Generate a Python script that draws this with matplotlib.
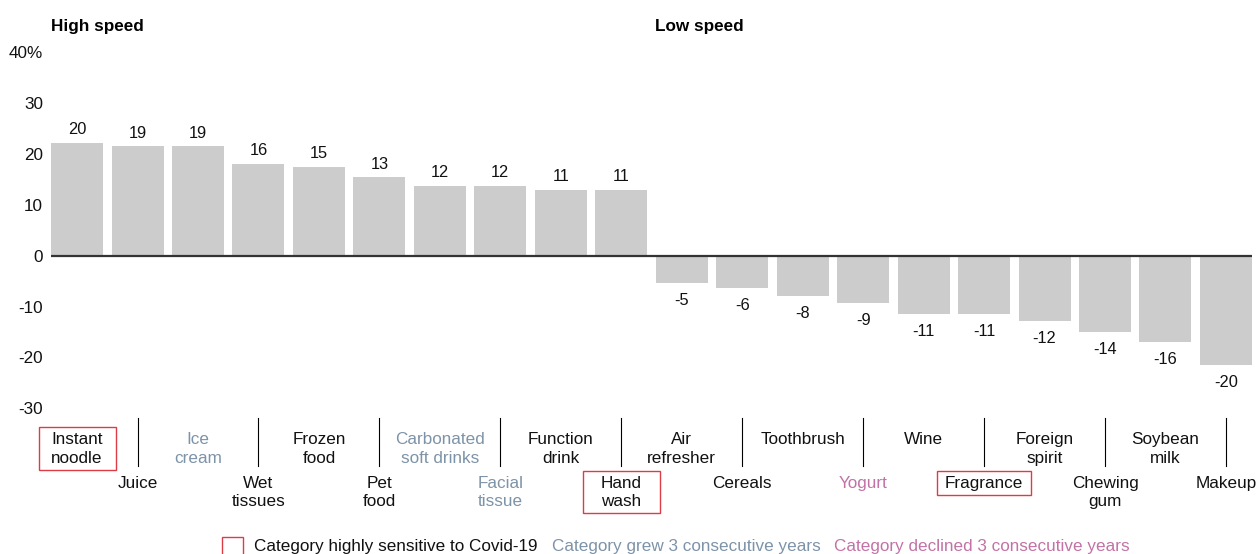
import matplotlib
matplotlib.use('Agg')
import matplotlib.pyplot as plt
from matplotlib.patches import Rectangle
from matplotlib.transforms import blended_transform_factory, IdentityTransform

# ---------------- data ----------------
categories = ["Instant\nnoodle", "Juice", "Ice\ncream", "Wet\ntissues", "Frozen\nfood",
              "Pet\nfood", "Carbonated\nsoft drinks", "Facial\ntissue", "Function\ndrink",
              "Hand\nwash", "Air\nrefresher", "Cereals", "Toothbrush", "Yogurt", "Wine",
              "Fragrance", "Foreign\nspirit", "Chewing\ngum", "Soybean\nmilk", "Makeup"]
bar_values = [22.2, 21.5, 21.5, 18.1, 17.5, 15.4, 13.7, 13.7, 12.9, 12.9,
              -5.3, -6.3, -7.9, -9.25, -11.4, -11.4, -12.8, -15.0, -16.9, -21.5]
value_labels = [20, 19, 19, 16, 15, 13, 12, 12, 11, 11,
                -5, -6, -8, -9, -11, -11, -12, -14, -16, -20]
covid_sensitive = ["Instant\nnoodle", "Hand\nwash", "Fragrance"]
grew_3_years = ["Ice\ncream", "Carbonated\nsoft drinks", "Facial\ntissue"]
declined_3_years = ["Yogurt"]
y_ticks = [-30, -20, -10, 0, 10, 20, 30, 40]
y_tick_labels = ["-30", "-20", "-10", "0", "10", "20", "30", "40%"]
group_titles = ["High speed", "Low speed"]
legend_texts = ["Category highly sensitive to Covid-19",
                "Category grew 3 consecutive years",
                "Category declined 3 consecutive years"]

# ---------------- style ----------------
plt.rcParams['font.family'] = ['Liberation Sans', 'DejaVu Sans']
BAR = '#cccccc'
ZERO = '#333333'
RED = '#dc3c46'
BLUE = '#7d93a8'
PINK = '#c272a6'
FS = 12.3

W, H = 1257, 554
fig = plt.figure(figsize=(W / 100, H / 100), dpi=100)
ax = fig.add_axes([46.8 / W, 1 - 420 / H, (1256.2 - 46.8) / W, 390 / H])
ax.set_xlim(-0.5, 19.5)
ax.set_ylim(-32.28, 44.34)

x = list(range(len(categories)))
ax.bar(x, bar_values, width=0.86, color=BAR, zorder=2)
ax.plot([-0.43, len(x) - 1 + 0.43], [0, 0], color=ZERO, lw=1.6,
        solid_capstyle='butt', zorder=3)

for i, (v, lab) in enumerate(zip(bar_values, value_labels)):
    if v >= 0:
        ax.annotate(str(lab), (i, v), xytext=(0, 4.0), textcoords='offset points',
                    ha='center', va='bottom', fontsize=11.8, color='#111111')
    else:
        ax.annotate(str(lab), (i, v), xytext=(0, -7.4), textcoords='offset points',
                    ha='center', va='top', fontsize=11.8, color='#111111')

ax.set_yticks(y_ticks, y_tick_labels)
ax.tick_params(axis='y', length=0, pad=2.7, labelsize=FS, labelcolor='#111111')
ax.set_xticks([])
for s in ax.spines.values():
    s.set_visible(False)

trans = blended_transform_factory(ax.transData, fig.transFigure)
cat_texts = {}
for i, cat in enumerate(categories):
    ypx = 432.3 if i % 2 == 0 else 476.0
    color = '#111111'
    if cat in grew_3_years:
        color = BLUE
    elif cat in declined_3_years:
        color = PINK
    t = ax.text(i, 1 - ypx / H, cat, transform=trans, ha='center', va='top',
                fontsize=FS, linespacing=1.27, color=color, clip_on=False)
    cat_texts[cat] = t
    if i % 2 == 1:
        ax.plot([i, i], [1 - 418.3 / H, 1 - 465.7 / H], transform=trans,
                color='black', lw=0.8, clip_on=False)

fig.text(50.7 / W, 1 - 26 / H, group_titles[0], fontweight='bold', fontsize=FS,
         va='center', ha='left')
fig.text(655 / W, 1 - 26 / H, group_titles[1], fontweight='bold', fontsize=FS,
         va='center', ha='left')

fig.canvas.draw()
renderer = fig.canvas.get_renderer()
for cat in covid_sensitive:
    bb = cat_texts[cat].get_window_extent(renderer)
    w = max(77, bb.width + 16)
    cx = (bb.x0 + bb.x1) / 2
    rect = Rectangle((cx - w / 2, bb.y0 - 4), w, bb.height + 9,
                     transform=IdentityTransform(), fill=False, edgecolor=RED, lw=1.0)
    fig.add_artist(rect)

# legend
fig.add_artist(Rectangle((222, H - 560), 21, 23, transform=IdentityTransform(),
                         fill=False, edgecolor=RED, lw=1.0))
xpos = 254
for txt, col in zip(legend_texts, ['#111111', BLUE, PINK]):
    t = fig.text(xpos / W, 1 - 546 / H, txt, color=col, fontsize=FS,
                 va='center', ha='left')
    fig.canvas.draw()
    bb = t.get_window_extent(fig.canvas.get_renderer())
    xpos = bb.x1 + 14

fig.savefig('out.png', dpi=100)
